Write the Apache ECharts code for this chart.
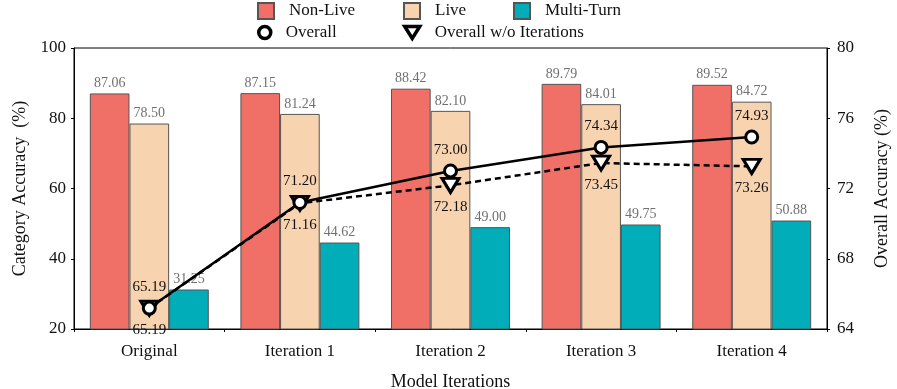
<!DOCTYPE html>
<html>
<head>
<meta charset="utf-8">
<script src="https://cdn.jsdelivr.net/npm/echarts@6/dist/echarts.min.js"></script>
<style>
    html, body { margin: 0; padding: 0; background: #fff; }
    #main { width: 897px; height: 389px; }
</style>
</head>
<body>
<div id="main"></div>
<script>
    var categories = ['Original', 'Iteration 1', 'Iteration 2', 'Iteration 3', 'Iteration 4'];
    var nonLive = [87.06, 87.15, 88.42, 89.79, 89.52];
    var live = [78.50, 81.24, 82.10, 84.01, 84.72];
    var multiTurn = [31.25, 44.62, 49.00, 49.75, 50.88];
    var overall = [65.19, 71.20, 73.00, 74.34, 74.93];
    var overallNoIter = [65.19, 71.16, 72.18, 73.45, 73.26];

    var font = 'Liberation Serif, Times New Roman, serif';
    var triPath = 'path://M0,0 L20,0 L10,16 Z';

    var chart = echarts.init(document.getElementById('main'));

    function barLabel() {
        return {
            show: true,
            position: 'top',
            distance: 3,
            color: '#707070',
            fontFamily: font,
            fontSize: 14,
            formatter: function (p) { return p.value.toFixed(2); }
        };
    }

    // one legend per item so the two rows line up in columns
    function legendAt(name, left, top, icon, w, h, bw) {
        var item = { name: name, icon: icon };
        if (bw) item.itemStyle = { borderWidth: bw };
        return {
            data: [item],
            left: left,
            top: top,
            padding: 0,
            itemWidth: w,
            itemHeight: h,
            textStyle: { fontFamily: font, fontSize: 17, color: '#111', padding: [0, 0, 0, 10] }
        };
    }

    var option = {
        animation: false,
        legend: [
            legendAt('Non-Live', 257, 2, 'rect', 16, 16),
            legendAt('Live', 403, 2, 'rect', 16, 16),
            legendAt('Multi-Turn', 513, 2, 'rect', 16, 16),
            legendAt('Overall', 257, 24, 'circle', 12, 12, 3.5),
            legendAt('Overall w/o Iterations', 403, 24, triPath, 15, 12, 3.5)
        ],
        grid: {
            left: 74, right: 70, top: 48, bottom: 60,
            outerBoundsMode: 'none',
            show: true, borderColor: '#000', borderWidth: 1
        },
        xAxis: {
            type: 'category',
            data: categories,
            name: 'Model Iterations',
            nameLocation: 'middle',
            nameGap: 44,
            nameTextStyle: { fontFamily: font, fontSize: 18, color: '#111' },
            axisLine: { lineStyle: { color: '#000' } },
            axisTick: { show: true, length: 3, lineStyle: { color: '#000' } },
            axisLabel: { fontFamily: font, fontSize: 17, color: '#111', margin: 14 }
        },
        yAxis: [{
            type: 'value',
            min: 20, max: 100, interval: 20,
            name: 'Category Accuracy  (%)',
            nameLocation: 'middle',
            nameGap: 44,
            nameTextStyle: { fontFamily: font, fontSize: 18, color: '#111' },
            splitLine: { show: false },
            axisLine: { show: true, lineStyle: { color: '#000' } },
            axisTick: { show: true, length: 3, lineStyle: { color: '#000' } },
            axisLabel: { fontFamily: font, fontSize: 17, color: '#111', margin: 8 }
        }, {
            type: 'value',
            min: 64, max: 80, interval: 4,
            name: 'Overall Accuracy (%)',
            nameLocation: 'middle',
            nameGap: 46,
            nameRotate: 90,
            nameTextStyle: { fontFamily: font, fontSize: 18, color: '#111' },
            splitLine: { show: false },
            axisLine: { show: true, lineStyle: { color: '#000' } },
            axisTick: { show: true, length: 3, lineStyle: { color: '#000' } },
            axisLabel: { fontFamily: font, fontSize: 17, color: '#111', margin: 10 }
        }],
        series: [{
            name: 'Non-Live',
            type: 'bar',
            data: nonLive,
            barGap: '0%',
            barCategoryGap: '21%',
            itemStyle: { color: '#F07067', borderColor: '#555', borderWidth: 1 },
            label: barLabel()
        }, {
            name: 'Live',
            type: 'bar',
            data: live,
            itemStyle: { color: '#F8D3B0', borderColor: '#555', borderWidth: 1 },
            label: barLabel()
        }, {
            name: 'Multi-Turn',
            type: 'bar',
            data: multiTurn,
            itemStyle: { color: '#00ADB8', borderColor: '#555', borderWidth: 1 },
            label: barLabel()
        }, {
            name: 'Overall w/o Iterations',
            type: 'line',
            yAxisIndex: 1,
            data: overallNoIter,
            z: 3,
            symbol: triPath,
            symbolSize: [17, 14],
            lineStyle: { color: '#000', width: 2.5, type: [6, 4] },
            itemStyle: { color: '#fff', borderColor: '#000', borderWidth: 3 },
            label: {
                show: true, position: 'bottom', distance: 6,
                fontFamily: font, fontSize: 15, color: '#111',
                formatter: function (p) { return p.value.toFixed(2); }
            }
        }, {
            name: 'Overall',
            type: 'line',
            yAxisIndex: 1,
            data: overall,
            z: 4,
            symbol: 'circle',
            symbolSize: 12,
            lineStyle: { color: '#000', width: 2.5 },
            itemStyle: { color: '#fff', borderColor: '#000', borderWidth: 3 },
            label: {
                show: true, position: 'top', distance: 6,
                fontFamily: font, fontSize: 15, color: '#111',
                formatter: function (p) { return p.value.toFixed(2); }
            }
        }]
    };

    chart.setOption(option);
</script>
</body>
</html>
